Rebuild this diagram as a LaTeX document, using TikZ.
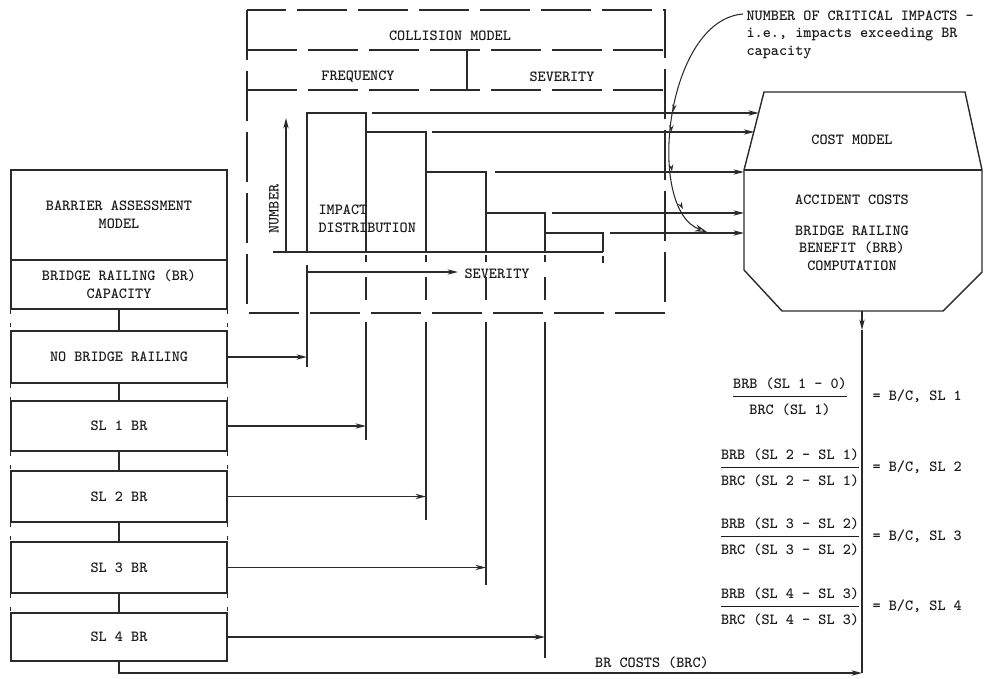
\documentclass[tikz,border=0pt]{standalone}
\usepackage{tikz}
\usetikzlibrary{arrows.meta, positioning, calc, decorations.markings}
\definecolor{inkline}{HTML}{2A2A2A}
\definecolor{inktext}{HTML}{1C1C1C}

\begin{document}
\begin{tikzpicture}[
  x=0.02cm, y=-0.02cm,
  color=inkline, line width=0.8pt,
  every node/.style={font=\fontsize{8.8}{10}\ttfamily\fontseries{b}\selectfont, text=inktext},
  levelbox/.style={rectangle, draw=inkline, minimum width=4.32cm, minimum height=1cm, inner sep=0pt, align=center},
  collide/.style={dash pattern=on 1cm off 0.22cm},
  gapdash/.style={dash pattern=on 2.5pt off 5pt},
  tickdash/.style={dash pattern=on 0.14cm off 0.3cm on 0.46cm off 0.44cm},
  barline/.style={line width=1.4pt},
  arr/.style={-{Stealth[length=6pt, width=3pt]}},
  midarrows/.style={postaction={decorate}, decoration={markings,
      mark=at position 0.49 with {\arrow{Stealth[length=4pt, width=2.5pt]}},
      mark=at position 0.57 with {\arrow{Stealth[length=4pt, width=2.5pt]}},
      mark=at position 0.72 with {\arrow{Stealth[length=4pt, width=2.5pt]}},
      mark=at position 0.87 with {\arrow{Stealth[length=4pt, width=2.5pt]}}}},
  fracnode/.style={inner sep=0pt},
]
\useasboundingbox (0,0) rectangle (984,679);

% Left column: barrier assessment model and service levels
\node[levelbox, minimum height=1.8cm] (bam) at (119,215) {BARRIER ASSESSMENT\\MODEL};
\node[levelbox, minimum height=0.98cm] (cap) at (119,284.5) {BRIDGE RAILING (BR)\\CAPACITY};
\node[levelbox, minimum height=1.04cm] (nobr) at (119,357) {NO BRIDGE RAILING};
\node[levelbox] (sl1) at (119,426) {SL 1 BR};
\node[levelbox, minimum height=1.02cm] (sl2) at (119,496.5) {SL 2 BR};
\node[levelbox, minimum height=1.02cm] (sl3) at (119,567.5) {SL 3 BR};
\node[levelbox, minimum height=0.96cm] (sl4) at (119,637) {SL 4 BR};

\draw (cap.south) -- (nobr.north);
\draw[gapdash] (cap.south west) -- (nobr.north west);
\draw[gapdash] (cap.south east) -- (nobr.north east);
\draw (nobr.south) -- (sl1.north);
\draw[gapdash] (nobr.south west) -- (sl1.north west);
\draw[gapdash] (nobr.south east) -- (sl1.north east);
\draw (sl1.south) -- (sl2.north);
\draw[gapdash] (sl1.south west) -- (sl2.north west);
\draw[gapdash] (sl1.south east) -- (sl2.north east);
\draw (sl2.south) -- (sl3.north);
\draw[gapdash] (sl2.south west) -- (sl3.north west);
\draw[gapdash] (sl2.south east) -- (sl3.north east);
\draw (sl3.south) -- (sl4.north);
\draw[gapdash] (sl3.south west) -- (sl4.north west);
\draw[gapdash] (sl3.south east) -- (sl4.north east);

% Collision model frame
\draw[collide] (247,10) rectangle (665,313);
\draw[collide] (247,50) -- (665,50);
\draw[collide] (247,90) -- (665,90);
\draw (467,50) -- (467,90);
\node (cmtitle) at (450,36) {COLLISION MODEL};
\node (freq) at (358,77) {FREQUENCY};
\node (sevhead) at (562,77) {SEVERITY};

% Impact distribution
\draw[barline] (307,252) -- (307,113) -- (366,113) -- (366,252);
\draw[barline] (366,132) -- (426,132) -- (426,252);
\draw[barline] (426,172) -- (486,172) -- (486,252);
\draw[barline] (486,213) -- (545,213) -- (545,252);
\draw[barline] (545,233) -- (603,233) -- (603,252);
\draw[line width=1.1pt] (273,252) -- (603,252);

\coordinate (numbase) at (286,252);
\coordinate (numtop) at (286,118);
\draw[arr] (numbase) -- (numtop);
\node[rotate=90] (numlbl) at (274,209) {NUMBER};
\node[anchor=west, align=left] (impdist) at (312,219) {IMPACT\\ DISTRIBUTION};

\node[anchor=west] (sevaxis) at (458,274) {SEVERITY};
\coordinate (sevstart) at (307,272);
\draw[arr] (sevstart) -- (sevstart -| sevaxis.west);

% Drops from the severity classes
\coordinate (drop0) at (307,367);
\coordinate (drop1) at (366,440);
\coordinate (drop2) at (426,520);
\coordinate (drop3) at (486,585);
\coordinate (drop4) at (545,658);
\draw (307,265) -- (drop0);
\draw[tickdash] (366,255) -- (366,322);
\draw (366,322) -- (drop1);
\draw[tickdash] (426,255) -- (426,322);
\draw (426,322) -- (drop2);
\draw[tickdash] (486,255) -- (486,322);
\draw (486,322) -- (drop3);
\draw[tickdash] (545,255) -- (545,322);
\draw (545,322) -- (drop4);
\draw (603,256) -- (603,263);

\draw[arr] (nobr.east) -- (nobr.east -| drop0);
\draw[arr] (sl1.east) -- (sl1.east -| drop1);
\draw[arr] (sl2.east) -- (sl2.east -| drop2);
\draw[arr] (sl3.east) -- (sl3.east -| drop3);
\draw[arr] (sl4.east) -- (sl4.east -| drop4);

% Cost model
\coordinate (ctl) at (764,92);
\coordinate (ctr) at (965,92);
\coordinate (cmr) at (982,170);
\coordinate (cbr) at (982,272);
\coordinate (cbr2) at (943,311);
\coordinate (cbl2) at (782,311);
\coordinate (cbl) at (744,270);
\coordinate (cml) at (744,170);
\draw (ctl) -- (ctr) -- (cmr) -- (cbr) -- (cbr2) -- (cbl2) -- (cbl) -- (cml) -- cycle;
\draw (cml) -- (cmr);
\node (costtitle) at (852,140) {COST MODEL};
\node (acccost) at (852,200) {ACCIDENT COSTS};
\node[align=center] (brbcomp) at (852,248) {BRIDGE RAILING\\BENEFIT (BRB)\\COMPUTATION};

% Impacts passed on to the cost model
\coordinate (h1) at (372,113);
\coordinate (h2) at (432,132);
\coordinate (h3) at (495,172);
\coordinate (h4) at (552,213);
\coordinate (h5) at (610,233);
\coordinate (c1) at (758.9,113);
\coordinate (c2) at (754.3,132);
\coordinate (c3) at (744,172);
\coordinate (c4) at (744,213);
\coordinate (c5) at (744,233);
\draw[arr] (h1) -- (c1);
\draw[arr] (h2) -- (c2);
\draw[arr] (h3) -- (c3);
\draw[arr] (h4) -- (c4);
\draw[arr] (h5) -- (c5);

\node[anchor=north west, align=left] (crit) at (740,4) {NUMBER OF CRITICAL IMPACTS -\\i.e., impacts exceeding BR\\capacity};
\coordinate (critstart) at (743,14);
\coordinate (critend) at (707,232);
\draw[line width=0.6pt, midarrows, -{Stealth[open, length=7pt, width=4pt]}] (critstart) .. controls (665,20) and (645,210) .. (critend);

% Benefit / cost ratios
\coordinate (cmbot) at (862,311);
\coordinate (cmtip) at (862,330);
\coordinate (brcend) at (862,673);
\draw[arr] (cmbot) -- (cmtip);
\draw (cmtip) -- (brcend);
\draw[arr] (sl4.south) |- (brcend);
\node (brclbl) at (652,663) {BR COSTS (BRC)};

\renewcommand{\arraystretch}{1.45}
\node[fracnode] (bc1) at (790,396) {\begin{tabular}{@{}c@{}}BRB (SL 1 - 0)\\\hline BRC (SL 1)\end{tabular}};
\node[fracnode] (bc2) at (790,467) {\begin{tabular}{@{}c@{}}BRB (SL 2 - SL 1)\\\hline BRC (SL 2 - SL 1)\end{tabular}};
\node[fracnode] (bc3) at (790,536) {\begin{tabular}{@{}c@{}}BRB (SL 3 - SL 2)\\\hline BRC (SL 3 - SL 2)\end{tabular}};
\node[fracnode] (bc4) at (790,606) {\begin{tabular}{@{}c@{}}BRB (SL 4 - SL 3)\\\hline BRC (SL 4 - SL 3)\end{tabular}};
\node[anchor=west] (eq1) at (866,396) {= B/C, SL 1};
\node[anchor=west] (eq2) at (866,467) {= B/C, SL 2};
\node[anchor=west] (eq3) at (866,536) {= B/C, SL 3};
\node[anchor=west] (eq4) at (866,606) {= B/C, SL 4};

\end{tikzpicture}
\end{document}
